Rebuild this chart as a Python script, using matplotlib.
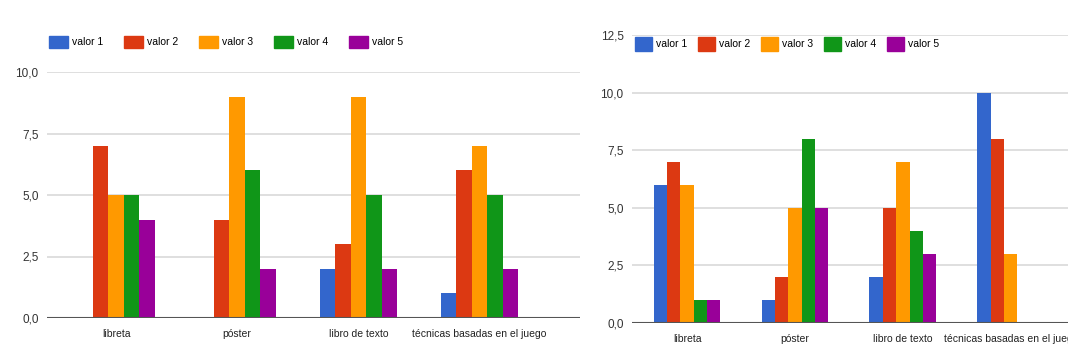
import numpy as np
import matplotlib.pyplot as plt
from matplotlib.patches import Patch

# datos
categorias = ['libreta', 'póster', 'libro de texto', 'técnicas basadas en el juego']
series = ['valor 1', 'valor 2', 'valor 3', 'valor 4', 'valor 5']
colores = ['#3366cc', '#dc3912', '#ff9900', '#109618', '#990099']

izq_v1 = [0, 0, 2, 1]
izq_v2 = [7, 4, 3, 6]
izq_v3 = [5, 9, 9, 7]
izq_v4 = [5, 6, 5, 5]
izq_v5 = [4, 2, 2, 2]

der_v1 = [6, 1, 2, 10]
der_v2 = [7, 2, 5, 8]
der_v3 = [6, 5, 7, 3]
der_v4 = [1, 8, 4, 0]
der_v5 = [1, 5, 3, 0]

izq_ticks = [0, 2.5, 5, 7.5, 10]
der_ticks = [0, 2.5, 5, 7.5, 10, 12.5]

plt.rcParams['font.family'] = ['Liberation Sans Narrow', 'Liberation Sans', 'DejaVu Sans']

W, H = 1068, 356
fig = plt.figure(figsize=(W / 100, H / 100), dpi=100)


def px_axes(x0, x1, y0, y1):
    # coordenadas en pixeles (y desde arriba)
    return fig.add_axes([x0 / W, 1 - y1 / H, (x1 - x0) / W, (y1 - y0) / H])


def panel(ax, datos, ticks, grupo, xlim):
    x = np.arange(len(categorias))
    w = grupo / len(datos)
    for i, vals in enumerate(datos):
        ax.bar(x - grupo / 2 + w * (i + 0.5), vals, width=w, color=colores[i], zorder=3)
    ax.set_ylim(0, ticks[-1])
    ax.set_xlim(*xlim)
    ax.set_yticks(ticks)
    ax.set_yticklabels([f'{t:.1f}'.replace('.', ',') for t in ticks], fontsize=8.5, color='#333333')
    ax.set_xticks(x)
    ax.set_xticklabels(categorias, fontsize=7.5, color='#222222')
    ax.tick_params(axis='x', length=0, pad=8)
    ax.tick_params(axis='y', length=0, pad=6)
    ax.grid(axis='y', color='#d9d9d9', linewidth=1.2, zorder=0)
    ax.axhline(0, color='#555555', linewidth=1.5, zorder=4)
    for s in ax.spines.values():
        s.set_visible(False)


izq = [izq_v1, izq_v2, izq_v3, izq_v4, izq_v5]
der = [der_v1, der_v2, der_v3, der_v4, der_v5]

ax1 = px_axes(47, 580, 72, 318)
panel(ax1, izq, izq_ticks, 0.64, (-0.57, 3.83))

ax2 = px_axes(632, 1068, 35, 323)
panel(ax2, der, der_ticks, 0.62, (-0.51, 3.53))

handles = [Patch(color=c, label=s) for c, s in zip(colores, series)]
fig.legend(handles=handles, loc='center left', bbox_to_anchor=(42 / W, 1 - 42 / H), ncol=5,
           frameon=False, fontsize=7.5, handlelength=1.8, handleheight=1.5,
           handletextpad=0.4, columnspacing=2.0, borderpad=0.2)
fig.legend(handles=handles, loc='center left', bbox_to_anchor=(628 / W, 1 - 44 / H), ncol=5,
           frameon=False, fontsize=7.5, handlelength=1.6, handleheight=1.6,
           handletextpad=0.4, columnspacing=1.05, borderpad=0.2)

fig.savefig('out.png', dpi=100)
